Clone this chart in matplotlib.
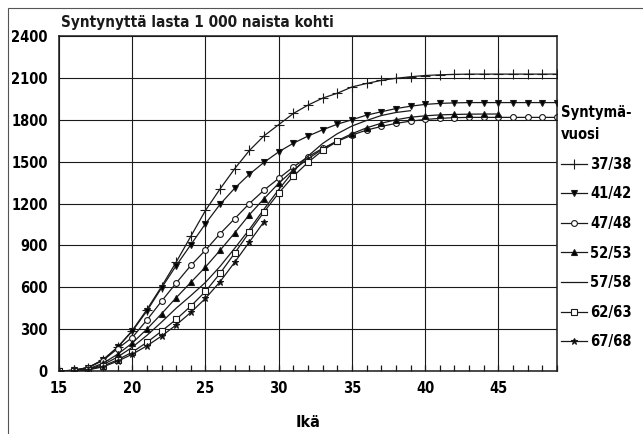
import matplotlib
matplotlib.use("Agg")
from matplotlib import pyplot as plt
from matplotlib.patches import Rectangle
from matplotlib.ticker import MultipleLocator
import numpy as np

# cumulative births per 1000 women, by age (starting at 15)
c37_38 = [0, 5, 25, 80, 170, 290, 440, 605, 780, 965, 1150, 1305, 1450, 1580, 1685,
          1765, 1845, 1905, 1955, 1990, 2035, 2060, 2082, 2097, 2108, 2117, 2122,
          2125, 2127, 2127, 2127, 2127, 2127, 2127, 2127]
c41_42 = [0, 5, 25, 80, 170, 285, 430, 595, 755, 905, 1055, 1195, 1310, 1410, 1495,
          1570, 1632, 1683, 1728, 1768, 1800, 1833, 1857, 1880, 1897, 1910, 1917,
          1921, 1923, 1923, 1923, 1923, 1923, 1923, 1923]
c47_48 = [0, 5, 25, 75, 160, 240, 365, 500, 630, 756, 866, 984, 1092, 1200, 1296,
          1380, 1462, 1535, 1595, 1645, 1690, 1726, 1752, 1774, 1790, 1802, 1810,
          1815, 1817, 1817, 1817, 1817, 1817, 1817, 1817]
c52_53 = [0, 3, 15, 55, 120, 200, 300, 410, 525, 635, 745, 865, 990, 1120, 1235,
          1345, 1440, 1520, 1590, 1650, 1700, 1742, 1775, 1800, 1818, 1828, 1835,
          1838, 1840, 1841, 1841]
c57_58 = [0, 3, 12, 45, 100, 170, 255, 350, 450, 540, 635, 750, 880, 1015, 1160,
          1300, 1430, 1540, 1630, 1700, 1755, 1795, 1830, 1852, 1865]
c62_63 = [0, 2, 10, 35, 80, 135, 205, 285, 370, 465, 570, 700, 845, 995, 1140,
          1275, 1395, 1495, 1580, 1645]
c67_68 = [0, 2, 8, 30, 70, 120, 180, 250, 330, 420, 520, 640, 780, 925, 1070]

cohorts = ["37/38", "41/42", "47/48", "52/53", "57/58", "62/63", "67/68"]
series = [c37_38, c41_42, c47_48, c52_53, c57_58, c62_63, c67_68]
markers = ["+", "v", "o", "^", None, "s", "*"]
fills = ["k", "k", "white", "k", "k", "white", "k"]
sizes = [6.5, 3.8, 4.2, 4.2, 0, 4.2, 5]

plt.rcParams["font.family"] = ["DejaVu Sans"]
plt.rcParams["font.stretch"] = "condensed"
plt.rcParams["font.weight"] = "bold"
ink = "#1a1a1a"

fig = plt.figure(figsize=(6.43, 4.34), dpi=100)
ax = fig.add_axes([59 / 643, 1 - 371 / 434, 498 / 643, 335 / 434])

for name, vals, m, fc, ms in zip(cohorts, series, markers, fills, sizes):
    ages = np.arange(15, 15 + len(vals))
    ax.plot(ages, vals, color=ink, lw=0.9, marker=m, markersize=ms,
            markerfacecolor=fc, markeredgecolor=ink, markeredgewidth=0.8,
            label=name)

ax.set_xlim(15, 49)
ax.set_ylim(0, 2400)
ax.xaxis.set_major_locator(MultipleLocator(5))
ax.xaxis.set_minor_locator(MultipleLocator(1))
ax.yaxis.set_major_locator(MultipleLocator(300))
ax.grid(True, which="major", color=ink, lw=0.8)
ax.tick_params(axis="x", which="both", direction="in", top=False, length=4,
               width=0.9, color=ink, labelsize=10.5, pad=7)
ax.tick_params(axis="y", length=0, labelsize=10.5, pad=8)
for s in ax.spines.values():
    s.set_color(ink)
    s.set_linewidth(1.1)
for lbl in ax.get_xticklabels() + ax.get_yticklabels():
    lbl.set_fontweight("bold")
    lbl.set_fontstretch("condensed")

ax.set_xlabel("Ikä", fontsize=11.5, fontweight="bold", labelpad=14)
fig.text(61 / 643, 1 - 22 / 434, "Syntynyttä lasta 1 000 naista kohti",
         fontsize=11, fontweight="bold", fontstretch="condensed",
         va="center", ha="left", color=ink)

leg = ax.legend(loc="upper left", bbox_to_anchor=(561 / 643, 1 - 105 / 434),
                bbox_transform=fig.transFigure, frameon=False,
                title="Syntymä-\nvuosi", alignment="left", fontsize=10.5,
                handlelength=1.8, handletextpad=0.2, labelspacing=1.0,
                borderaxespad=0, borderpad=0)
leg.get_title().set_fontweight("bold")
leg.get_title().set_fontsize(10.5)
leg.get_title().set_fontstretch("condensed")
leg.get_title().set_linespacing(1.6)
for t in leg.get_texts():
    t.set_fontweight("bold")
    t.set_fontstretch("condensed")

fig.patches.append(Rectangle((8 / 643, -0.1), 1.2, 1 - 8 / 434 + 0.1,
                             transform=fig.transFigure, fill=False,
                             edgecolor="#555555", lw=0.8))

fig.savefig("out.png", dpi=100)
